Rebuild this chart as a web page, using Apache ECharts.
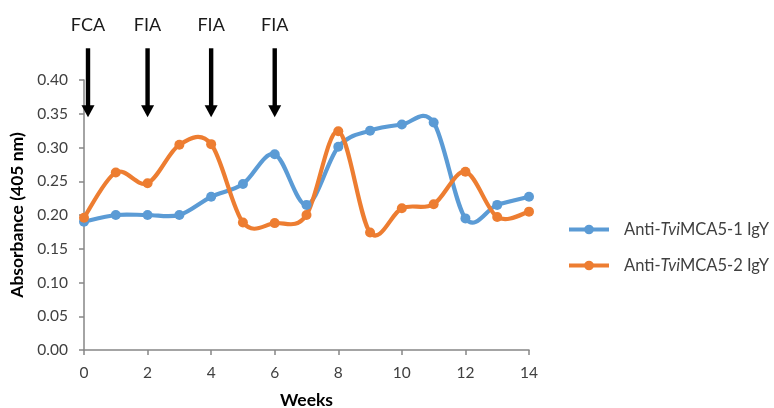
<!DOCTYPE html>
<html>
<head>
<meta charset="utf-8">
<script src="https://cdn.jsdelivr.net/npm/echarts@6/dist/echarts.min.js"></script>
<style>
  html, body { margin: 0; padding: 0; background: #fff; }
  #chart { width: 774px; height: 408px; }
</style>
</head>
<body>
<div id="chart"></div>
<script>
// Weekly absorbance readings for the two IgY preparations
const weeks = [0, 1, 2, 3, 4, 5, 6, 7, 8, 9, 10, 11, 12, 13, 14];
const igy1 = [0.190, 0.200, 0.200, 0.200, 0.227, 0.246, 0.290, 0.215, 0.301, 0.325, 0.334, 0.337, 0.195, 0.215, 0.227];
const igy2 = [0.196, 0.263, 0.247, 0.304, 0.305, 0.189, 0.188, 0.200, 0.324, 0.174, 0.210, 0.216, 0.264, 0.197, 0.205];
const seriesNames = ['Anti-TviMCA5-1 IgY', 'Anti-TviMCA5-2 IgY'];
const seriesColors = ['#5B9BD5', '#ED7D31'];
const yTicks = [0, 0.05, 0.10, 0.15, 0.20, 0.25, 0.30, 0.35, 0.40];

// Immunisation schedule shown as arrows above the plot
const immunWeeks = [0, 2, 4, 6];
const immunLabels = ['FCA', 'FIA', 'FIA', 'FIA'];

const FONT = 'Lato';
const axisGrey = '#868686';
const textGrey = '#404040';

const chart = echarts.init(document.getElementById('chart'));

function pairs(vals) {
  return weeks.map((w, i) => [w, vals[i]]);
}

// Smoothed curve drawn segment by segment (Catmull-Rom style Bezier),
// every point mapped through the axes with api.coord
function curveRenderer(vals, color) {
  return function (params, api) {
    const i = params.dataIndex;
    const n = weeks.length;
    if (i >= n - 1) return null;
    const P = j => api.coord([weeks[Math.max(0, Math.min(n - 1, j))], vals[Math.max(0, Math.min(n - 1, j))]]);
    const p0 = P(i - 1), p1 = P(i), p2 = P(i + 1), p3 = P(i + 2);
    const k = 1 / 6;
    return {
      type: 'bezierCurve',
      shape: {
        x1: p1[0], y1: p1[1],
        cpx1: p1[0] + (p2[0] - p0[0]) * k, cpy1: p1[1] + (p2[1] - p0[1]) * k,
        cpx2: p2[0] - (p3[0] - p1[0]) * k, cpy2: p2[1] - (p3[1] - p1[1]) * k,
        x2: p2[0], y2: p2[1]
      },
      style: { stroke: color, lineWidth: 4.2, fill: null, lineCap: 'round', lineJoin: 'round' }
    };
  };
}

const option = {
  animation: false,
  backgroundColor: '#ffffff',
  grid: { left: 84, right: 245, top: 80, bottom: 58, containLabel: false, outerBoundsMode: 'none' },
  xAxis: {
    type: 'value',
    min: 0, max: 14, interval: 2,
    name: 'Weeks',
    nameLocation: 'middle',
    nameGap: 41,
    nameTextStyle: { fontFamily: FONT, fontSize: 17.5, fontWeight: 'bold', color: '#000' },
    axisLine: { show: true, lineStyle: { color: axisGrey, width: 1.5 } },
    axisTick: { show: true, length: 5, lineStyle: { color: axisGrey, width: 1.5 } },
    axisLabel: { fontFamily: FONT, fontSize: 15.5, color: textGrey, margin: 15 },
    splitLine: { show: false }
  },
  yAxis: {
    type: 'value',
    min: 0, max: 0.40, interval: 0.05,
    name: 'Absorbance (405 nm)',
    nameLocation: 'middle',
    nameGap: 53,
    nameTextStyle: { fontFamily: FONT, fontSize: 17.5, fontWeight: 'bold', color: '#000' },
    axisLine: { show: true, lineStyle: { color: axisGrey, width: 1.5 } },
    axisTick: { show: true, length: 5, lineStyle: { color: axisGrey, width: 1.5 } },
    axisLabel: {
      fontFamily: FONT, fontSize: 15.5, color: textGrey, margin: 16,
      formatter: v => {
        const t = yTicks.find(y => Math.abs(y - v) < 1e-9);
        return (t !== undefined ? t : v).toFixed(2);
      }
    },
    splitLine: { show: false }
  },
  legend: {
    orient: 'vertical',
    left: 567,
    top: 221,
    padding: 0,
    itemWidth: 40,
    itemHeight: 12,
    itemGap: 19,
    data: seriesNames.map((name, i) => ({
      name: name,
      lineStyle: { width: 4, color: seriesColors[i], opacity: 1 },
      itemStyle: { color: seriesColors[i] }
    })),
    formatter: name => {
      const m = name.match(/^(Anti-)(Tvi)(.*)$/);
      return '{n|' + m[1] + '}{i|' + m[2] + '}{n|' + m[3] + '}';
    },
    textStyle: {
      padding: [0, 0, 0, 10],
      rich: {
        n: { fontFamily: FONT, fontSize: 16.5, color: textGrey },
        i: { fontFamily: FONT, fontSize: 16.5, color: textGrey, fontStyle: 'italic' }
      }
    }
  },
  series: [
    // markers (and legend entries)
    ...[igy1, igy2].map((vals, s) => ({
      name: seriesNames[s],
      type: 'line',
      data: pairs(vals),
      symbol: 'circle',
      symbolSize: 10,
      color: seriesColors[s],
      lineStyle: { width: 4, color: seriesColors[s], opacity: 0 },
      itemStyle: { color: seriesColors[s] },
      clip: false,
      z: 4 + s
    })),
    // smoothed connecting curves
    ...[igy1, igy2].map((vals, s) => ({
      name: seriesNames[s],
      type: 'custom',
      data: pairs(vals),
      renderItem: curveRenderer(vals, seriesColors[s]),
      clip: false,
      silent: true,
      z: 2 + s
    }))
  ]
};

chart.setOption(option);

// Arrows marking each immunisation, placed through the axis scales
const arrowTopVal = 0.447;
const arrowTipVal = 0.345;
const graphics = [];
immunWeeks.forEach((w, i) => {
  let x = chart.convertToPixel({ xAxisIndex: 0 }, w);
  if (w === 0) x += 4; // keep the first arrow clear of the axis line
  const yTop = chart.convertToPixel({ yAxisIndex: 0 }, arrowTopVal);
  const yTip = chart.convertToPixel({ yAxisIndex: 0 }, arrowTipVal);
  const headH = 12, headW = 13;
  graphics.push({
    type: 'rect',
    shape: { x: x - 2.2, y: yTop, width: 4.4, height: yTip - yTop - headH + 1 },
    style: { fill: '#000' }, z: 10
  });
  graphics.push({
    type: 'polygon',
    shape: { points: [[x - headW / 2, yTip - headH], [x + headW / 2, yTip - headH], [x, yTip]] },
    style: { fill: '#000' }, z: 10
  });
  graphics.push({
    type: 'text',
    x: x, y: 25,
    style: {
      text: immunLabels[i],
      fontFamily: FONT, fontSize: 18, fill: '#1a1a1a',
      align: 'center', verticalAlign: 'middle'
    },
    z: 10
  });
});
chart.setOption({ graphic: graphics });
</script>
</body>
</html>
